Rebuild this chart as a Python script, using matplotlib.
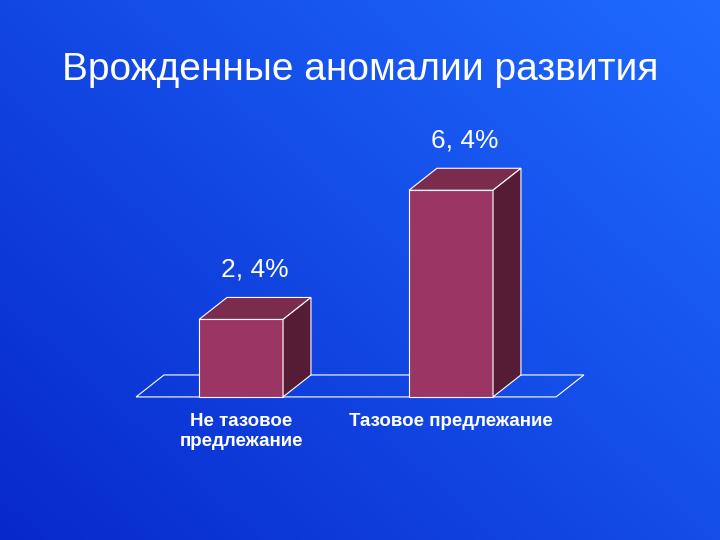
import matplotlib.pyplot as plt
import numpy as np
from matplotlib.patches import Polygon

plt.rcParams['font.family'] = ['Liberation Sans', 'DejaVu Sans']

title = 'Врожденные аномалии развития'
categories = ['Не тазовое\nпредлежание', 'Тазовое предлежание']
values = [2.4, 6.4]
value_labels = ['2, 4%', '6, 4%']

fig = plt.figure(figsize=(7.2, 5.4), dpi=100)

# blue gradient background
bg = fig.add_axes([0, 0, 1, 1])
yy, xx = np.mgrid[0:1:200j, 0:1:200j]
t = 0.55 * xx + 0.45 * yy
c0 = np.array([0.03, 0.16, 0.80])
c1 = np.array([0.12, 0.42, 1.00])
img = c0 + (c1 - c0) * t[..., None]
bg.imshow(img, origin='lower', extent=[0, 1, 0, 1], aspect='auto')
bg.axis('off')

ax = fig.add_axes([0, 0, 1, 1])
ax.patch.set_alpha(0)
ax.set_xlim(-1.148, 2.281)
ax.set_ylim(-4.43, 12.29)
ax.axis('off')

w = 0.4
dx, dy = 0.133, 0.68
front, top, side = '#9b3664', '#7b2b4e', '#561c36'

# floor
ax.add_patch(Polygon([(-0.5, 0), (1.5, 0), (1.5 + dx, dy), (-0.5 + dx, dy)],
                     closed=True, fill=False, edgecolor='white', lw=0.8))

for i, v in enumerate(values):
    x0, x1 = i - w / 2, i + w / 2
    ax.add_patch(Polygon([(x0, 0), (x1, 0), (x1, v), (x0, v)], facecolor=front,
                         edgecolor='white', lw=0.8, zorder=3))
    ax.add_patch(Polygon([(x0, v), (x1, v), (x1 + dx, v + dy), (x0 + dx, v + dy)],
                         facecolor=top, edgecolor='white', lw=0.8, zorder=3))
    ax.add_patch(Polygon([(x1, 0), (x1 + dx, dy), (x1 + dx, v + dy), (x1, v)],
                         facecolor=side, edgecolor='white', lw=0.8, zorder=3))
    ax.text(i + dx / 2, v + 1.55, value_labels[i], ha='center', va='center',
            color='white', fontsize=19)
    ax.text(i, -0.5, categories[i], ha='center', va='top',
            color='white', fontsize=13.5, fontweight='bold', linespacing=1.25)

fig.text(0.5, 0.87, title, ha='center', va='center', color='white', fontsize=28)

fig.savefig('out.png', dpi=100)
